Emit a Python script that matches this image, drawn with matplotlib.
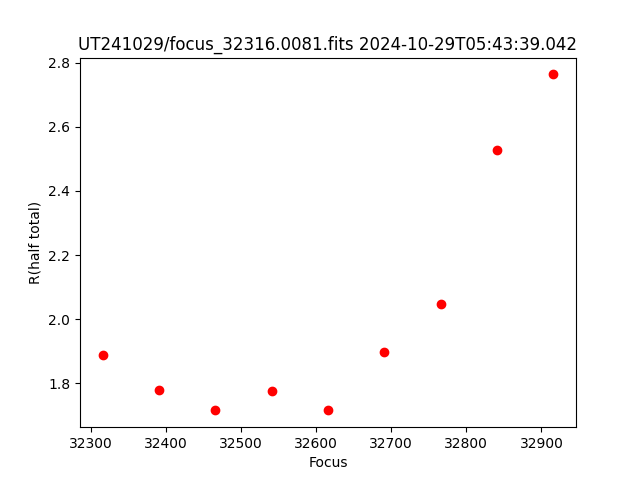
import matplotlib
matplotlib.use("Agg")
import matplotlib.pyplot as plt

focus = [32316, 32391, 32466, 32541, 32616, 32691, 32766, 32841, 32916]
r_half = [1.890, 1.780, 1.716, 1.777, 1.716, 1.899, 2.047, 2.527, 2.763]

fig, ax = plt.subplots(figsize=(6.4, 4.8), dpi=100)
ax.plot(focus, r_half, 'ro')
ax.set_xlabel("Focus")
ax.set_ylabel("R(half total)")
ax.set_title("UT241029/focus_32316.0081.fits 2024-10-29T05:43:39.042")
fig.savefig("out.png")
